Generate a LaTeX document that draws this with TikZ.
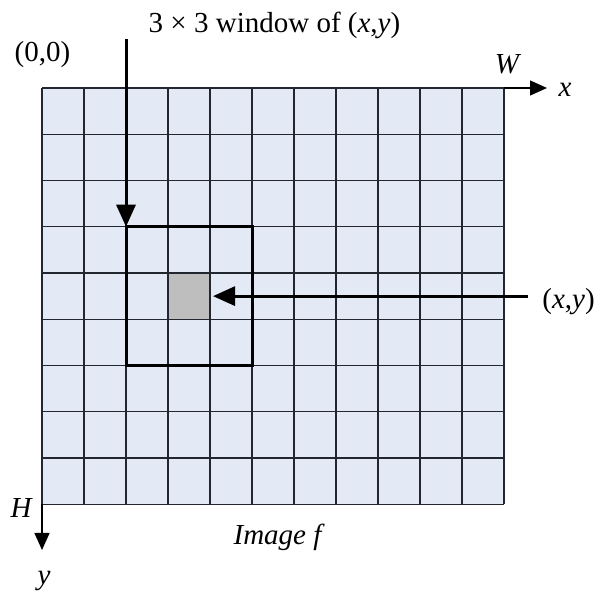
\documentclass[tikz,border=0pt]{standalone}
\usepackage{fontspec}
\setmainfont{Liberation Serif}
\usetikzlibrary{arrows.meta, positioning, calc}
\definecolor{pixfill}{HTML}{E3EAF6}
\definecolor{pixline}{HTML}{22262E}
\definecolor{ctrgray}{HTML}{BEBEBE}

\begin{document}
\begin{tikzpicture}[
  x=1pt, y=-1pt,
  >={Triangle[length=22pt, width=19pt]},
  lbl/.style={font=\fontsize{29}{34}\selectfont, inner sep=2pt},
  itlbl/.style={font=\fontsize{29}{34}\selectfont\itshape, inner sep=2pt},
  imgbox/.style={fill=pixfill, minimum width=462pt, minimum height=416.25pt,
    inner sep=0pt, outer sep=0pt, anchor=north west},
  wndbox/.style={draw=black, line width=3pt, minimum width=126pt,
    minimum height=138.75pt, inner sep=0pt, outer sep=0pt},
  ctrpix/.style={fill=ctrgray, minimum width=42pt, minimum height=46.25pt,
    inner sep=0pt, outer sep=0pt},
  pixgrid/.style={pixline, line width=1.4pt},
  bigarr/.style={->, line width=3pt},
  axis/.style={-{Triangle[length=17pt, width=15pt]}, line width=1.3pt},
]

\useasboundingbox (0,0) rectangle (595,593);

% Image f: 11 x 9 pixels
\node[imgbox] (img) at (42,88) {};
\node[ctrpix] (ctr) at (189,296.125) {};
\foreach \i in {0,...,11}
  \draw[pixgrid] ({42+\i*42},88) -- ({42+\i*42},504.25);
\foreach \j in {0,...,9}
  \draw[pixgrid] (42,{88+\j*46.25}) -- (504,{88+\j*46.25});

% 3x3 window round (x,y)
\node[wndbox] (wnd) at (ctr) {};

% axes
\coordinate (xend) at (547,88);
\coordinate (yend) at (42,550);
\draw[axis] (img.north east) -- (xend);
\draw[axis] (img.south west) -- (yend);

% labels
\node[lbl] (orig) at (42.5,55) {(0,0)};
\node[lbl, anchor=base] (wtitle) at (274.5,33) {3 × 3 window of (\textit{x},\textit{y})};
\node[itlbl] (wlab) at (507,64) {W};
\node[itlbl] (xlab) at (565,90) {x};
\node[itlbl] (hlab) at (21,508) {H};
\node[itlbl] (ylab) at (44,581) {y};
\node[itlbl, anchor=base] (imglab) at (277.5,545) {Image f};
\node[lbl] (xylab) at (568.5,302) {(\textit{x},\textit{y})};

% pointers
\coordinate (wtop) at (126,39);
\draw[bigarr] (wtop) -- (wnd.north west);
\draw[bigarr, shorten >=3pt] ([xshift=-12pt]xylab.west |- ctr.east) -- (ctr.east);

\end{tikzpicture}
\end{document}
